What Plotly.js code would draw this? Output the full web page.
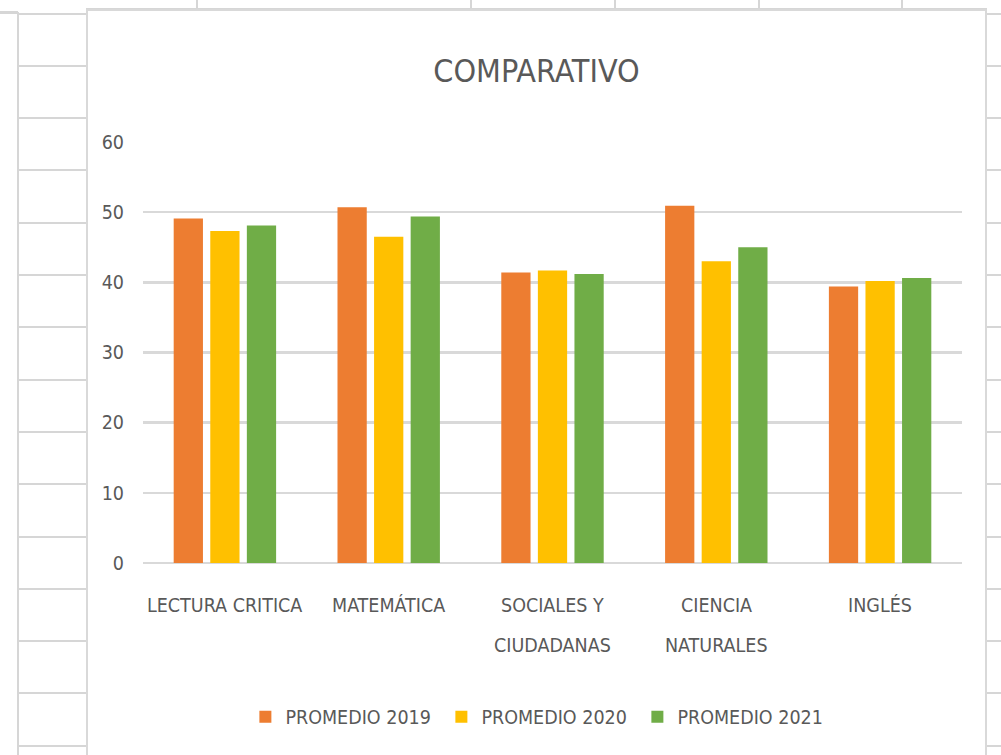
<!DOCTYPE html>
<html>
<head>
<meta charset="utf-8">
<script src="https://cdn.plot.ly/plotly-3.0.1.min.js"></script>
<style>
  html, body { margin: 0; padding: 0; background: #ffffff; overflow: hidden; }
  body { width: 1001px; height: 755px; position: relative; }
  .gl { position: absolute; background: #d6d6d6; }
  #chart { position: absolute; left: 86px; top: 9px; width: 901px; height: 760px;
           background: #ffffff; border: 2px solid #d9d9d9; box-sizing: border-box; }
</style>
</head>
<body>
<div id="sheet"></div>
<div id="chart"></div>
<script>
// ---- data ----
var categories = ["LECTURA CRITICA", "MATEMÁTICA", "SOCIALES Y<br>CIUDADANAS", "CIENCIA<br>NATURALES", "INGLÉS"];
var promedio2019 = [49.1, 50.7, 41.4, 50.9, 39.4];
var promedio2020 = [47.3, 46.5, 41.7, 43.0, 40.2];
var promedio2021 = [48.1, 49.4, 41.2, 45.0, 40.6];
var seriesNames = ["PROMEDIO 2019", "PROMEDIO 2020", "PROMEDIO 2021"];
var yTicks = [0, 10, 20, 30, 40, 50, 60];
var chartTitle = "COMPARATIVO";

// ---- spreadsheet background decoration ----
(function () {
  var sheet = document.getElementById('sheet');
  function line(l, t, w, h) {
    var d = document.createElement('div');
    d.className = 'gl';
    d.style.left = l + 'px'; d.style.top = t + 'px';
    d.style.width = w + 'px'; d.style.height = h + 'px';
    sheet.appendChild(d);
  }
  line(17, 12, 2, 743);
  line(0, 11, 18, 3);
  for (var k = 0; k < 15; k++) {
    var y = Math.round(12.5 + 52.3 * k);
    line(18, y, 68, 2);
    line(987, y, 14, 2);
  }
  [196, 470, 614, 758, 901].forEach(function (x) { line(x, 0, 2, 10); });
  line(86, 8, 901, 2);
})();

var colors = ["#ED7D31", "#FFC000", "#70AD47"];
var seriesValues = [promedio2019, promedio2020, promedio2021];
var traces = seriesValues.map(function (vals, i) {
  return {
    type: 'bar', x: categories, y: vals, name: seriesNames[i],
    marker: { color: colors[i] }, hoverinfo: 'none'
  };
});

var FONT = '"Liberation Sans Narrow", "Arial Narrow", "DejaVu Sans Condensed", sans-serif';
var TXT = '#595959';
var FS = 19.5;

var annotations = [];
categories.forEach(function (c) {
  c.split('<br>').forEach(function (part, j) {
    annotations.push({
      xref: 'x', yref: 'paper', x: c, y: -0.1 - 0.095 * j,
      text: part, showarrow: false, xanchor: 'center', yanchor: 'middle',
      font: { family: FONT, size: FS, color: TXT }
    });
  });
});

var layout = {
  width: 897, height: 742,
  margin: { l: 55, r: 23, t: 131, b: 190, pad: 0 },
  paper_bgcolor: '#ffffff', plot_bgcolor: '#ffffff',
  font: { family: FONT, size: FS, color: TXT },
  title: { text: chartTitle, x: 0.5, xanchor: 'center', y: 1 - 60 / 742, yanchor: 'middle',
           font: { family: FONT, size: 32, color: TXT } },
  barmode: 'group', bargap: 0.33, bargroupgap: 0.2,
  xaxis: { type: 'category', showticklabels: false, showgrid: false, zeroline: false,
           showline: false, ticks: '', fixedrange: true, automargin: false },
  yaxis: { range: [0, 60], tickvals: yTicks, ticktext: yTicks.map(String),
           showgrid: true, gridcolor: '#d9d9d9', gridwidth: 2.5,
           zeroline: true, zerolinecolor: '#d9d9d9', zerolinewidth: 2.5,
           showline: false, ticks: '', ticklabelstandoff: 18, automargin: false,
           tickfont: { family: FONT, size: FS, color: TXT }, fixedrange: true },
  showlegend: true,
  legend: { orientation: 'h', x: 0.125, xanchor: 'left', y: -0.366, yanchor: 'middle',
            font: { family: FONT, size: FS, color: TXT }, entrywidth: 151, entrywidthmode: 'pixels',
            bgcolor: 'rgba(0,0,0,0)', traceorder: 'normal' },
  annotations: annotations
};

Plotly.newPlot('chart', traces, layout, { displayModeBar: false, staticPlot: true });
</script>
</body>
</html>
